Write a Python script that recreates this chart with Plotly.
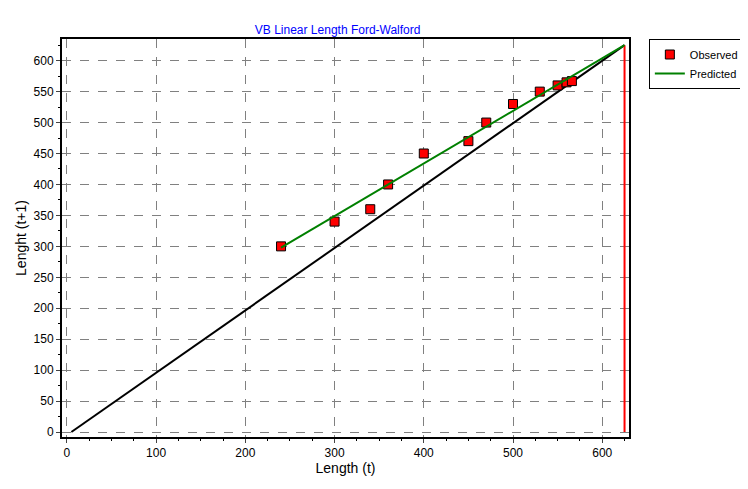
import plotly.graph_objects as go

obs_x = [240, 300, 340, 360, 400, 450, 470, 500, 530, 550, 560, 566]
obs_y = [300, 340, 360, 400, 450, 470, 500, 530, 550, 560, 565, 567]
pred_x = [240, 625]
pred_y = [298, 625]
diag_x = [5, 625]
diag_y = [0, 625]
linf_x = [625, 625]
linf_y = [0, 625]

fig = go.Figure()
fig.add_trace(go.Scatter(x=diag_x, y=diag_y, mode="lines", line=dict(color="black", width=2), showlegend=False))
fig.add_trace(go.Scatter(x=linf_x, y=linf_y, mode="lines", line=dict(color="red", width=2), showlegend=False))
fig.add_trace(go.Scatter(x=obs_x, y=obs_y, mode="markers", name="Observed",
                         marker=dict(symbol="square", size=9, color="red", line=dict(color="black", width=1))))
fig.add_trace(go.Scatter(x=pred_x, y=pred_y, mode="lines", name="Predicted", line=dict(color="green", width=2)))

ax = dict(showgrid=True, gridcolor="#808080", griddash="dash", gridwidth=1, zeroline=False,
          showline=True, linecolor="black", linewidth=2, mirror=True, ticks="outside", ticklen=4,
          tickfont=dict(size=12, color="black"))
fig.update_layout(
    width=748, height=489, plot_bgcolor="white", paper_bgcolor="white",
    font=dict(family="Liberation Sans, Arial", size=12, color="black"),
    title=dict(text="VB Linear Length Ford-Walford", x=0.33, y=0.965, font=dict(size=12, color="#0000ff")),
    margin=dict(l=54, r=116, t=31, b=60),
    xaxis=dict(ax, range=[-5.5, 630], dtick=100,
               minor=dict(dtick=25, ticks="outside", ticklen=2, tickcolor="black", showgrid=False),
               title=dict(text="Length (t)", font=dict(size=14), standoff=2)),
    yaxis=dict(ax, range=[-8, 635], dtick=50,
               minor=dict(dtick=25, ticks="outside", ticklen=2, tickcolor="black", showgrid=False),
               title=dict(text="Lenght (t+1)", font=dict(size=14), standoff=4)),
    legend=dict(x=1.035, y=1.0, xanchor="left", yanchor="top", bordercolor="black", borderwidth=1,
                font=dict(size=11), tracegroupgap=0, itemwidth=30),
)
fig.write_html("out.html")
